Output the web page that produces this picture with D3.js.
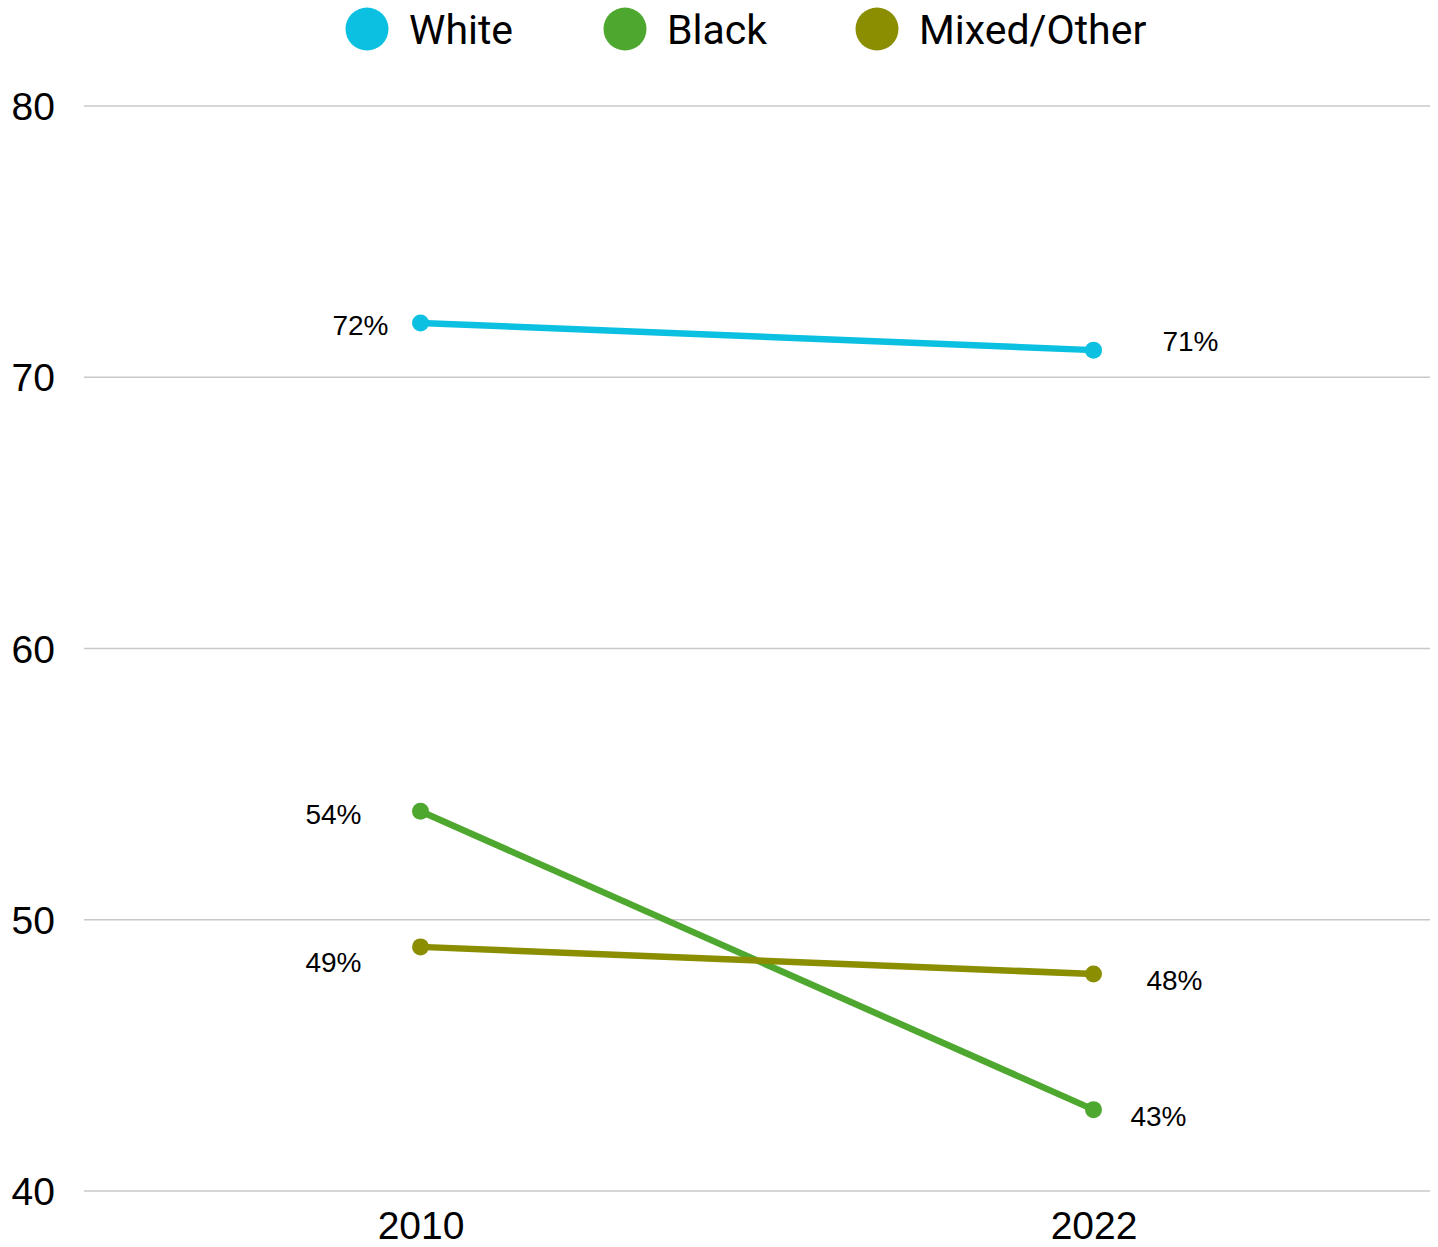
<!DOCTYPE html>
<html>
<head>
<meta charset="utf-8">
<script src="https://cdn.jsdelivr.net/npm/d3@7"></script>
<style>
  body { margin: 0; background: #fff; }
  svg text { fill: #000; }
</style>
</head>
<body>
<div id="chart"></div>
<script>
// data
var years = ["2010", "2022"];
var seriesNames = ["White", "Black", "Mixed/Other"];
var white = [72, 71];
var black = [54, 43];
var mixed = [49, 48];
var yTicks = [40, 50, 60, 70, 80];
var colors = ["#0bc0e0", "#4ea72e", "#8a8e00"];

var series = [
    {name: seriesNames[0], values: white, color: colors[0]},
    {name: seriesNames[1], values: black, color: colors[1]},
    {name: seriesNames[2], values: mixed, color: colors[2]}
];

// label offsets (dx, dy) per series, start point then end point
var labelOffsets = [
    [[-60, 12], [97, 1]],
    [[-87, 13], [65, 16]],
    [[-87, 25], [81, 16]]
];

var width = 1438,
    height = 1247,
    margin = {top: 106, right: 8, bottom: 56, left: 84};

var svg = d3.select("#chart").append("svg")
    .attr("width", width)
    .attr("height", height);

var x = d3.scalePoint()
    .domain(years)
    .range([margin.left, width - margin.right])
    .padding(0.5);

var y = d3.scaleLinear()
    .domain([40, 80])
    .range([height - margin.bottom, margin.top]);

// gridlines
svg.append("g")
    .selectAll("line")
    .data(yTicks)
    .enter().append("line")
    .attr("x1", margin.left)
    .attr("x2", width - margin.right)
    .attr("y1", function(d) { return y(d); })
    .attr("y2", function(d) { return y(d); })
    .attr("stroke", "#c8c8c8")
    .attr("stroke-width", 1.5);

// y axis labels
var yAxis = svg.append("g")
    .attr("transform", "translate(" + margin.left + ",0)")
    .call(d3.axisLeft(y).tickValues(yTicks).tickSize(0).tickPadding(29));
yAxis.select(".domain").remove();
yAxis.selectAll("text")
    .attr("font-family", "Liberation Sans, Arial, sans-serif")
    .attr("font-size", 39)
    .attr("fill", "#000")
    .attr("dy", "0.35em");

// x axis labels
var xAxis = svg.append("g")
    .attr("transform", "translate(0," + (height - margin.bottom) + ")")
    .call(d3.axisBottom(x).tickSize(0).tickPadding(20));
xAxis.select(".domain").remove();
xAxis.selectAll("text")
    .attr("font-family", "Liberation Sans, Arial, sans-serif")
    .attr("font-size", 39)
    .attr("fill", "#000");

var line = d3.line()
    .x(function(d, i) { return x(years[i]); })
    .y(function(d) { return y(d); });

var g = svg.selectAll(".series")
    .data(series)
    .enter().append("g")
    .attr("class", "series");

g.append("path")
    .attr("d", function(d) { return line(d.values); })
    .attr("fill", "none")
    .attr("stroke", function(d) { return d.color; })
    .attr("stroke-width", 6.5);

g.selectAll("circle")
    .data(function(d) { return d.values.map(function(v) { return {v: v, color: d.color}; }); })
    .enter().append("circle")
    .attr("cx", function(d, i) { return x(years[i]); })
    .attr("cy", function(d) { return y(d.v); })
    .attr("r", 8.5)
    .attr("fill", function(d) { return d.color; });

g.each(function(s, si) {
    d3.select(this).selectAll(".lbl")
        .data(s.values)
        .enter().append("text")
        .attr("class", "lbl")
        .attr("x", function(d, i) { return x(years[i]) + labelOffsets[si][i][0]; })
        .attr("y", function(d, i) { return y(d) + labelOffsets[si][i][1]; })
        .attr("text-anchor", "middle")
        .attr("font-family", "Liberation Sans, Arial, sans-serif")
        .attr("font-size", 28)
        .text(function(d) { return d + "%"; });
});

// legend
var legendX = [367, 625, 877];
var legend = svg.selectAll(".legend")
    .data(series)
    .enter().append("g")
    .attr("transform", function(d, i) { return "translate(" + legendX[i] + ",29)"; });

legend.append("circle")
    .attr("r", 21.5)
    .attr("fill", function(d) { return d.color; });

legend.append("text")
    .attr("x", 42)
    .attr("dy", "0.36em")
    .attr("font-family", "Roboto, sans-serif")
    .attr("font-size", 41)
    .text(function(d) { return d.name; });
</script>
</body>
</html>
